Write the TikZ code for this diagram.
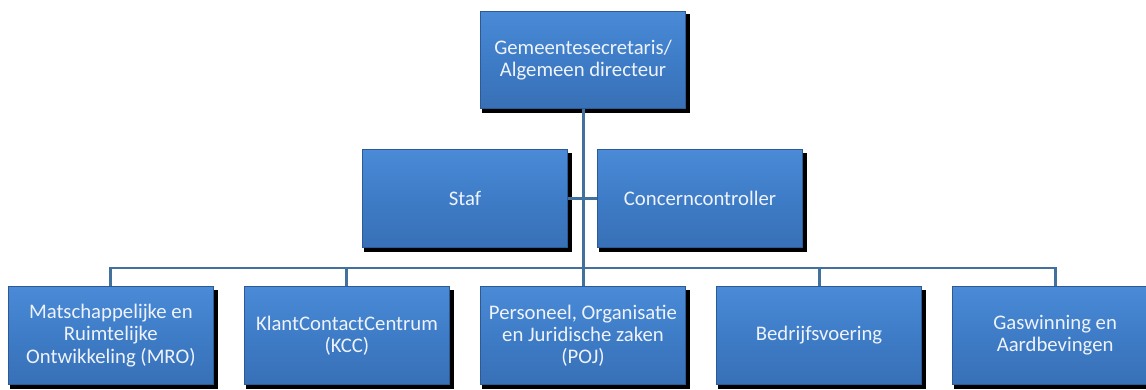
\documentclass[tikz,border=0pt]{standalone}
\usepackage{fontspec}
\setmainfont{Carlito}
\usepackage{tikz}
\usetikzlibrary{positioning,shadows}

\definecolor{boxtop}{HTML}{4A8AD6}
\definecolor{boxmid}{HTML}{3E7CC7}
\definecolor{boxbot}{HTML}{3870B6}
\definecolor{boxedge}{HTML}{2B5A96}
\definecolor{linkblue}{HTML}{41719C}
\definecolor{boxtext}{HTML}{EEF3FB}

\tikzset{
  unit/.style={draw=boxedge, line width=0.6pt, rectangle, top color=boxtop, bottom color=boxbot, middle color=boxmid,
    minimum width=4.1cm, minimum height=1.95cm, text width=4.02cm, inner sep=0.4mm, align=flush center, text=boxtext,
    font=\fontsize{11.8}{12.6}\selectfont,
    general shadow={fill=black, shadow xshift=1.6pt, shadow yshift=-2pt, shadow scale=1.015}},
  link/.style={draw=linkblue, line width=1.7pt}
}

\begin{document}
\begin{tikzpicture}[node distance=0.6cm]
    \useasboundingbox (0,0) rectangle (22.92,-7.8);

    % Top
    \node[unit] (gs) at (11.66,-1.2) {Gemeentesecretaris/\\Algemeen directeur};

    % Staff level
    \node[unit, below=0.8cm of gs, xshift=-2.36cm] (staf) {Staf};
    \node[unit, below=0.8cm of gs, xshift=2.34cm] (cc) {Concerncontroller};

    % Departments
    \node[unit, below=3.54cm of gs] (poj) {Personeel, Organisatie\\en Juridische zaken\\(POJ)};
    \node[unit, left=of poj] (kcc) {KlantContactCentrum\\(KCC)};
    \node[unit, left=of kcc] (mro) {Matschappelijke en\\Ruimtelijke\\Ontwikkeling (MRO)};
    \node[unit, right=of poj] (bv) {Bedrijfsvoering};
    \node[unit, right=of bv] (gas) {Gaswinning en\\Aardbevingen};

    % Lines
    \coordinate (bus) at (gs.south |- 0,-5.36);
    \draw[link] (staf.east) -- (cc.west);
    \draw[link] (gs.south) -- (bus);
    \foreach \n in {mro,kcc,poj,bv,gas}
        \draw[link] (\n.north) |- (bus);
\end{tikzpicture}
\end{document}
